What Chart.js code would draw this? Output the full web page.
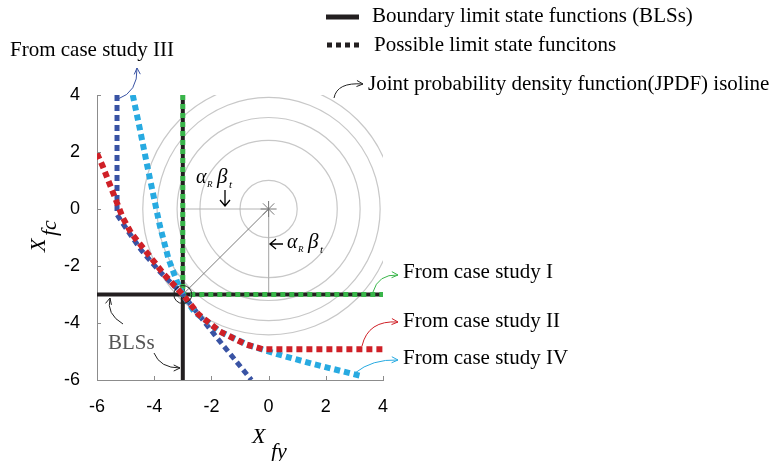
<!DOCTYPE html>
<html>
<head>
<meta charset="utf-8">
<script src="https://cdn.jsdelivr.net/npm/chart.js@4.4.1/dist/chart.umd.min.js"></script>
<style>
  body { margin: 0; background: #fff; }
</style>
</head>
<body>
<canvas id="grafico" width="777" height="461"></canvas>
<script>
// eixos
const ticksX = [-6, -4, -2, 0, 2, 4];
const ticksY = [-6, -4, -2, 0, 2, 4];

// funções de estado limite de fronteira (BLSs)
const blsHorizX = [-6, 4];
const blsHorizY = [-3, -3];
const blsVertX = [-3, -3];
const blsVertY = [-6, 4];

// estudo de caso I
const caso1X = [-3, -3, 4];
const caso1Y = [4, -3, -3];

// estudo de caso II
const caso2X = [-6, -5.8, -5.45, -5.1, -4.8, -4.2, -3.65, -3.0, -2.45, -1.7, -0.8, -0.2, 4];
const caso2Y = [1.95, 1.5, 0.6, -0.3, -0.85, -1.6, -2.3, -3.0, -3.7, -4.3, -4.75, -4.92, -4.92];

// estudo de caso III
const caso3X = [-5.3, -5.3, -4.9, -4.45, -3.8, -3.0, -1.9, -0.6];
const caso3Y = [4, -0.2, -0.8, -1.45, -2.2, -3.0, -4.4, -6.0];

// estudo de caso IV
const caso4X = [-4.75, -4.5, -4.25, -4.0, -3.8, -3.5, -3.2, -3.0, -2.6, -1.7, -0.7, 0.4, 1.6, 3.2];
const caso4Y = [4, 2.8, 1.55, 0.35, -0.6, -1.75, -2.55, -3.0, -3.6, -4.3, -4.78, -5.12, -5.45, -5.85];

// isolinhas da JPDF (raios) e linhas auxiliares
const isolinhas = [1.0, 2.4, 3.2, 3.9, 4.4];
const centro = [0, 0];
const pontoProjeto = [-3, -3];

function pares(xs, ys) {
    return xs.map((x, i) => ({ x: x, y: ys[i] }));
}

function linha(xs, ys, cor, largura, tracejado) {
    return {
        data: pares(xs, ys),
        showLine: true,
        borderColor: cor,
        borderWidth: largura,
        borderDash: tracejado || [],
        pointRadius: 0,
        fill: false,
        tension: 0
    };
}

function seta(ctx, x0, y0, cx, cy, x1, y1, cor) {
    ctx.save();
    ctx.strokeStyle = cor;
    ctx.lineWidth = 1;
    ctx.beginPath();
    ctx.moveTo(x0, y0);
    ctx.quadraticCurveTo(cx, cy, x1, y1);
    ctx.stroke();
    var a = Math.atan2(y1 - cy, x1 - cx);
    ctx.beginPath();
    ctx.moveTo(x1 - 7 * Math.cos(a - 0.45), y1 - 7 * Math.sin(a - 0.45));
    ctx.lineTo(x1, y1);
    ctx.lineTo(x1 - 7 * Math.cos(a + 0.45), y1 - 7 * Math.sin(a + 0.45));
    ctx.stroke();
    ctx.restore();
}

function alfaBeta(ctx, x, y) {
    ctx.fillStyle = '#000';
    ctx.textAlign = 'left';
    ctx.textBaseline = 'alphabetic';
    ctx.font = 'italic 20px "Liberation Serif"';
    ctx.fillText('α', x, y);
    ctx.font = 'italic 9px "Liberation Serif"';
    ctx.fillText('R', x + 11, y + 4);
    ctx.font = 'italic 21px "Liberation Serif"';
    ctx.fillText('β', x + 21, y);
    ctx.font = 'italic 11px "Liberation Serif"';
    ctx.fillText('t', x + 33, y + 5);
}

// circunferências da JPDF atrás das curvas
const pluginIsolinhas = {
    id: 'isolinhas',
    beforeDatasetsDraw(chart) {
        const ctx = chart.ctx, a = chart.chartArea;
        const sx = chart.scales.x, sy = chart.scales.y;
        const cx = sx.getPixelForValue(centro[0]), cy = sy.getPixelForValue(centro[1]);
        ctx.save();
        ctx.beginPath();
        ctx.rect(a.left, a.top, a.right - a.left, a.bottom - a.top);
        ctx.clip();
        ctx.strokeStyle = '#c8c8c8';
        ctx.lineWidth = 1.2;
        isolinhas.forEach(r => {
            const rp = sx.getPixelForValue(r) - sx.getPixelForValue(0);
            ctx.beginPath();
            ctx.arc(cx, cy, rp, 0, 2 * Math.PI);
            ctx.stroke();
        });
        ctx.restore();
    }
};

// marcas internas, títulos dos eixos, legenda e anotações
const pluginAnotacoes = {
    id: 'anotacoes',
    afterDraw(chart) {
        const ctx = chart.ctx, a = chart.chartArea;
        const sx = chart.scales.x, sy = chart.scales.y;
        ctx.save();

        ctx.strokeStyle = '#8c8c8c';
        ctx.lineWidth = 1;
        ctx.beginPath();
        ticksX.forEach(v => {
            const p = Math.round(sx.getPixelForValue(v)) + 0.5;
            ctx.moveTo(p, a.bottom);
            ctx.lineTo(p, a.bottom - 4);
        });
        ticksY.forEach(v => {
            const p = Math.round(sy.getPixelForValue(v)) + 0.5;
            ctx.moveTo(a.left, p);
            ctx.lineTo(a.left + 4, p);
        });
        ctx.stroke();

        // títulos dos eixos
        ctx.fillStyle = '#000';
        ctx.textBaseline = 'middle';
        ctx.textAlign = 'left';
        ctx.font = 'italic 22px "Liberation Serif"';
        ctx.fillText('X', 252, 437);
        ctx.fillText('fy', 271, 452);
        ctx.save();
        ctx.translate(39, 252);
        ctx.rotate(-Math.PI / 2);
        ctx.fillText('X', 0, 0);
        ctx.fillText('fc', 16, 11);
        ctx.restore();

        // legenda
        ctx.strokeStyle = '#231f20';
        ctx.lineWidth = 5;
        ctx.beginPath();
        ctx.moveTo(326, 17);
        ctx.lineTo(359, 17);
        ctx.stroke();
        ctx.setLineDash([5, 4]);
        ctx.beginPath();
        ctx.moveTo(327, 45);
        ctx.lineTo(362, 45);
        ctx.stroke();
        ctx.setLineDash([]);

        ctx.font = '21px "Liberation Serif"';
        ctx.fillStyle = '#000';
        ctx.fillText('Boundary limit state functions (BLSs)', 372, 16);
        ctx.fillText('Possible limit state funcitons', 374, 45);
        ctx.fillText('Joint probability density function(JPDF) isoline', 368, 84);
        ctx.fillText('From case study III', 10, 50);
        ctx.fillText('From case study I', 403, 272);
        ctx.fillText('From case study II', 403, 321);
        ctx.fillText('From case study IV', 403, 358);
        ctx.fillStyle = '#555';
        ctx.fillText('BLSs', 108, 343);

        // setas
        seta(ctx, 334, 98, 337, 82, 363, 84, '#222');
        seta(ctx, 118, 99, 138, 92, 137, 68, '#3953a4');
        seta(ctx, 373, 292, 378, 274, 398, 275, '#39b54a');
        seta(ctx, 362, 346, 368, 320, 398, 322, '#cf2027');
        seta(ctx, 355, 373, 372, 359, 398, 360, '#27aae1');
        seta(ctx, 123, 324, 106, 314, 110, 298, '#222');
        seta(ctx, 154, 353, 160, 368, 180, 368, '#222');

        // αR βt
        ctx.strokeStyle = '#000';
        ctx.lineWidth = 1.3;
        ctx.beginPath();
        ctx.moveTo(225, 190);
        ctx.lineTo(225, 206);
        ctx.moveTo(220, 200);
        ctx.lineTo(225, 206);
        ctx.lineTo(230, 200);
        ctx.moveTo(283, 244);
        ctx.lineTo(270, 244);
        ctx.moveTo(276, 239);
        ctx.lineTo(270, 244);
        ctx.lineTo(276, 249);
        ctx.stroke();
        alfaBeta(ctx, 196, 183);
        alfaBeta(ctx, 287, 248);

        ctx.restore();
    }
};

const escalaFonte = { family: 'Liberation Sans', size: 18 };

new Chart(document.getElementById('grafico').getContext('2d'), {
    type: 'scatter',
    data: {
        datasets: [
            { data: [{ x: pontoProjeto[0], y: pontoProjeto[1] }], pointStyle: 'circle', pointRadius: 9,
              backgroundColor: 'rgba(0,0,0,0)', borderColor: '#222', borderWidth: 1 },
            { data: [{ x: centro[0], y: centro[1] }], pointStyle: 'star', pointRadius: 8,
              borderColor: '#777', borderWidth: 1 },
            linha(caso2X, caso2Y, '#cf2027', 6, [6, 4]),
            linha(caso4X, caso4Y, '#27aae1', 6, [6, 4]),
            linha(caso3X, caso3Y, '#3953a4', 5, [6, 4]),
            linha(caso1X, caso1Y, '#39b54a', 5, [5, 4]),
            linha(blsHorizX, blsHorizY, '#231f20', 4),
            linha(blsVertX, blsVertY, '#231f20', 4),
            linha([centro[0], pontoProjeto[0]], [centro[1], pontoProjeto[1]], '#7a7a7a', 1),
            linha([centro[0], pontoProjeto[0]], [centro[1], centro[1]], '#b4b4b4', 1),
            linha([centro[0], centro[0]], [centro[1], pontoProjeto[1]], '#b4b4b4', 1)
        ]
    },
    options: {
        responsive: false,
        animation: false,
        devicePixelRatio: 1,
        layout: { padding: { top: 95, right: 394, bottom: 0, left: 0 } },
        plugins: {
            legend: { display: false },
            tooltip: { enabled: false }
        },
        scales: {
            x: {
                type: 'linear',
                min: -6,
                max: 4,
                afterBuildTicks: s => { s.ticks = ticksX.map(v => ({ value: v })); },
                afterFit: s => { s.height = 81; },
                grid: { display: false },
                border: { display: true, color: '#8c8c8c', width: 1 },
                ticks: { color: '#000', font: escalaFonte, padding: 8 }
            },
            y: {
                type: 'linear',
                min: -6,
                max: 4,
                afterBuildTicks: s => { s.ticks = ticksY.map(v => ({ value: v })); },
                afterFit: s => { s.width = 97; },
                grid: { display: false },
                border: { display: true, color: '#8c8c8c', width: 1 },
                ticks: { color: '#000', font: escalaFonte, padding: 9 }
            }
        }
    },
    plugins: [pluginIsolinhas, pluginAnotacoes]
});
</script>
</body>
</html>
